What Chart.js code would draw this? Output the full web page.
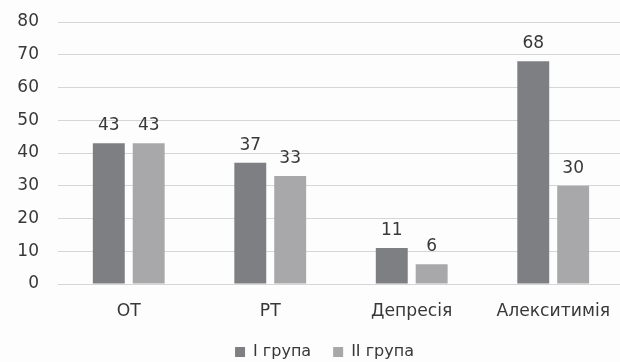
<!DOCTYPE html>
<html>
<head>
<meta charset="utf-8">
<script src="https://cdn.jsdelivr.net/npm/chart.js@4/dist/chart.umd.min.js"></script>
<style>
  html, body { margin: 0; padding: 0; background: #fdfdfd; overflow: hidden; }
  #chart { display: block; }
</style>
</head>
<body>
<canvas id="chart" width="627" height="370"></canvas>
<script>
const categories = ['ОТ', 'РТ', 'Депресія', 'Алекситимія'];
const group1 = [43, 37, 11, 68];
const group2 = [43, 33, 6, 30];
const seriesNames = ['I група', 'II група'];
const yTicks = [0, 10, 20, 30, 40, 50, 60, 70, 80];

const TEXT = '#383838';
const FONT = '"DejaVu Sans", "Open Sans", sans-serif';

// Draws each bar's value just above it
const valueLabels = {
  id: 'valueLabels',
  afterDatasetsDraw(chart) {
    const ctx = chart.ctx;
    ctx.save();
    ctx.fillStyle = TEXT;
    ctx.font = '17px ' + FONT;
    ctx.textAlign = 'center';
    ctx.textBaseline = 'alphabetic';
    chart.data.datasets.forEach((ds, i) => {
      chart.getDatasetMeta(i).data.forEach((bar, j) => {
        ctx.fillText(String(ds.data[j]), bar.x, bar.y - 13);
      });
    });
    ctx.restore();
  }
};

// Nudges the legend row a little to the right of the canvas centre
const legendOffset = {
  id: 'legendOffset',
  afterLayout(chart) {
    if (chart.legend) {
      chart.legend.left += 11;
      chart.legend.right += 11;
    }
  }
};

new Chart(document.getElementById('chart'), {
  type: 'bar',
  data: {
    labels: categories,
    datasets: [
      { label: seriesNames[0], data: group1, backgroundColor: '#7e7f83' },
      { label: seriesNames[1], data: group2, backgroundColor: '#a8a8aa' }
    ]
  },
  options: {
    responsive: false,
    animation: false,
    layout: { padding: { top: 22, left: 0, right: 0, bottom: 0 } },
    datasets: { bar: { categoryPercentage: 0.564, barPercentage: 0.8 } },
    scales: {
      x: {
        afterFit(scale) { scale.height = 38; },
        grid: { display: false, drawTicks: false },
        border: { display: false },
        ticks: { color: TEXT, font: { family: FONT, size: 17.2 }, padding: 17 }
      },
      y: {
        min: 0, max: 80,
        afterFit(scale) {
          scale.width = 58;
          scale.paddingTop = 0;
          scale.paddingBottom = 0;
        },
        afterBuildTicks(scale) { scale.ticks = yTicks.map(v => ({ value: v })); },
        grid: { color: '#d6d6d6', lineWidth: 1, drawTicks: false },
        border: { display: false },
        ticks: { color: TEXT, font: { family: FONT, size: 17 }, padding: 19 }
      }
    },
    plugins: {
      legend: {
        position: 'bottom',
        labels: {
          color: TEXT,
          font: { family: FONT, size: 16 },
          boxWidth: 10, boxHeight: 10,
          padding: 22
        }
      },
      tooltip: { enabled: false }
    }
  },
  plugins: [valueLabels, legendOffset]
});
</script>
</body>
</html>
